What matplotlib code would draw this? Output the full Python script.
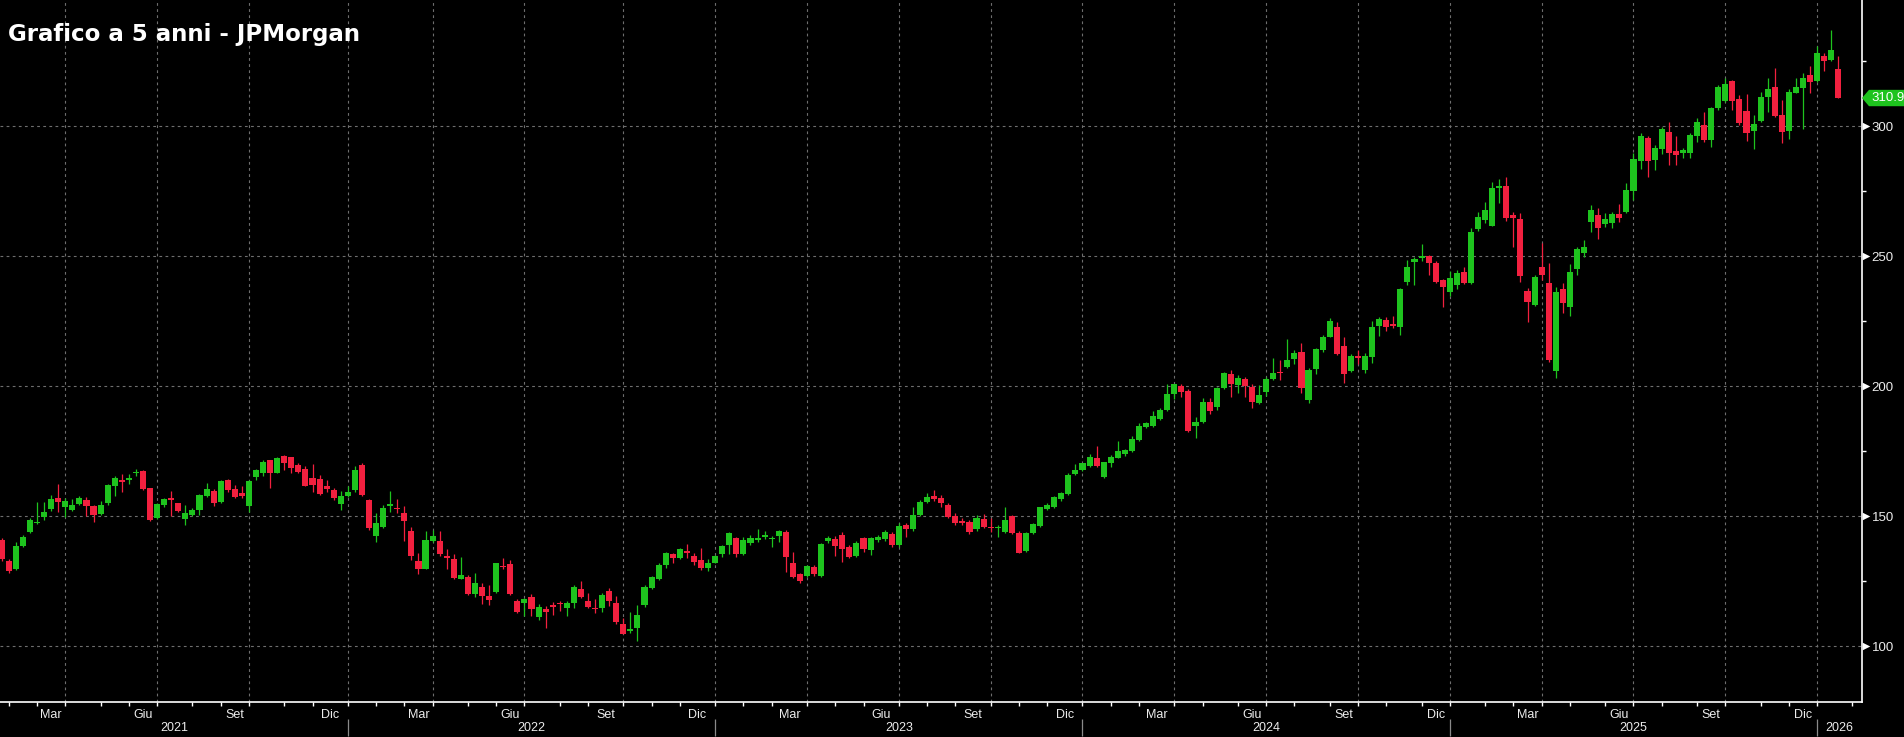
import numpy as np
import pandas as pd
import matplotlib
matplotlib.use("Agg")
import matplotlib.pyplot as plt
from matplotlib.patches import Polygon

# weekly candles (USD), first week starts 2021-01-25
first_week = "2021-01-25"

opens = [
    140.9, 133.0, 129.8, 138.6, 144.0, 147.3, 149.9, 152.7, 157.0, 153.5,
    152.5, 154.8, 156.3, 154.0, 151.0, 155.3, 161.8, 164.0, 163.8, 166.6,
    167.6, 160.8, 149.5, 154.3, 157.0, 155.2, 149.0, 150.6, 152.5, 157.9,
    159.8, 155.7, 164.0, 160.6, 158.9, 154.0, 165.3, 166.8, 171.5, 166.8,
    173.4, 172.7, 169.8, 168.1, 164.7, 164.3, 161.8, 160.2, 154.8, 157.9,
    160.2, 169.8, 156.3, 142.6, 146.1, 153.8, 153.4, 151.4, 144.5, 132.9,
    129.9, 140.6, 140.6, 134.7, 133.6, 126.1, 126.7, 120.1, 122.9, 119.5,
    121.0, 131.0, 131.7, 117.4, 116.5, 119.1, 111.4, 114.3, 115.9, 116.8,
    114.9, 116.8, 122.0, 117.4, 114.7, 114.8, 121.3, 116.5, 108.6, 105.9,
    107.2, 115.9, 122.5, 126.1, 131.3, 135.4, 134.1, 136.7, 134.7, 133.2,
    130.2, 132.2, 135.5, 139.0, 141.7, 135.5, 139.6, 140.9, 141.9, 141.2,
    142.6, 144.1, 132.2, 127.7, 127.2, 130.4, 127.2, 140.5, 141.2, 142.8,
    138.4, 134.8, 141.6, 137.1, 140.9, 141.3, 143.2, 139.0, 146.7, 145.0,
    150.5, 155.4, 157.8, 156.9, 154.4, 150.2, 148.4, 148.0, 145.0, 148.9,
    145.8, 145.4, 144.1, 150.2, 143.7, 136.8, 143.7, 146.3, 152.7, 153.7,
    156.5, 158.6, 166.3, 167.8, 169.5, 172.3, 165.3, 170.4, 172.6, 174.0,
    175.3, 179.4, 184.2, 184.7, 187.4, 190.9, 196.9, 200.2, 198.3, 184.9,
    186.4, 194.1, 192.2, 199.2, 204.7, 200.5, 202.7, 199.6, 193.7, 197.9,
    202.7, 205.7, 207.6, 210.4, 213.2, 194.8, 206.7, 214.0, 219.1, 222.7,
    215.5, 206.1, 211.7, 206.3, 211.4, 223.2, 225.5, 224.0, 223.0, 240.3,
    248.0, 249.3, 250.3, 247.6, 240.9, 236.4, 239.0, 243.9, 239.9, 260.4,
    264.0, 261.8, 276.4, 277.0, 265.9, 264.4, 236.7, 231.3, 245.8, 239.6,
    206.0, 237.3, 230.6, 245.0, 251.4, 263.1, 265.9, 262.4, 263.0, 266.2,
    267.2, 275.3, 286.8, 295.7, 287.1, 291.2, 298.0, 290.6, 289.7, 289.9,
    296.3, 300.6, 294.8, 307.1, 309.9, 317.5, 310.4, 305.9, 298.4, 302.2,
    311.2, 315.0, 304.4, 298.4, 313.0, 314.9, 319.8, 317.6, 327.1, 325.6,
    322.1,
]

highs = [
    141.5, 133.5, 140.3, 143.0, 149.3, 155.4, 155.6, 158.1, 162.5, 157.0,
    156.8, 157.9, 157.6, 154.5, 155.9, 162.5, 165.6, 166.3, 166.2, 168.1,
    167.9, 160.8, 155.0, 157.2, 159.8, 155.3, 154.4, 153.1, 158.6, 162.7,
    160.6, 164.0, 164.3, 162.0, 161.5, 164.0, 168.3, 171.7, 171.7, 173.0,
    173.6, 173.0, 170.4, 169.2, 170.2, 165.9, 164.0, 160.8, 159.9, 161.5,
    169.2, 170.7, 156.6, 151.2, 154.4, 159.8, 156.7, 154.0, 145.8, 135.8,
    144.5, 144.7, 144.3, 137.3, 135.5, 134.2, 127.4, 128.1, 124.2, 123.6,
    132.2, 134.1, 133.2, 118.4, 118.5, 120.1, 116.3, 115.5, 117.2, 117.4,
    117.4, 123.6, 125.1, 120.7, 118.1, 120.4, 122.5, 119.5, 110.8, 113.3,
    115.9, 123.6, 127.0, 131.9, 136.4, 136.1, 137.8, 139.2, 135.8, 137.8,
    133.5, 135.0, 139.1, 144.1, 141.9, 141.9, 142.8, 145.0, 144.5, 142.5,
    144.8, 144.8, 136.4, 128.1, 131.3, 131.3, 139.6, 142.5, 142.5, 144.1,
    139.0, 140.7, 142.2, 142.2, 142.7, 144.8, 144.1, 147.3, 147.6, 153.5,
    156.3, 159.1, 160.2, 158.2, 155.0, 151.2, 149.3, 148.6, 150.5, 150.9,
    149.3, 146.7, 153.5, 150.5, 144.5, 144.1, 147.6, 153.7, 155.0, 157.8,
    159.3, 166.5, 170.1, 170.6, 174.0, 177.0, 171.0, 173.6, 178.9, 176.1,
    180.9, 186.0, 186.4, 190.6, 191.5, 200.9, 201.1, 201.1, 199.1, 188.1,
    195.4, 195.4, 199.9, 205.6, 206.3, 204.4, 203.5, 201.1, 200.5, 203.5,
    210.8, 210.2, 218.1, 213.8, 216.8, 207.0, 214.9, 219.8, 226.2, 224.9,
    218.9, 212.5, 213.8, 212.7, 225.2, 226.6, 226.6, 227.1, 237.7, 248.6,
    249.9, 254.8, 250.5, 248.4, 241.2, 244.5, 244.8, 246.1, 260.8, 267.2,
    271.0, 278.7, 279.6, 280.4, 267.2, 266.5, 237.7, 242.8, 255.0, 247.6,
    238.3, 239.9, 247.1, 253.5, 256.3, 269.7, 268.5, 266.8, 267.2, 270.1,
    278.1, 289.9, 297.5, 296.3, 292.9, 299.7, 301.8, 296.1, 291.6, 297.3,
    303.1, 305.7, 307.6, 315.9, 318.5, 317.9, 312.1, 312.5, 304.4, 313.4,
    318.5, 322.6, 310.2, 314.3, 318.5, 320.4, 323.3, 331.0, 328.1, 337.1,
    327.1,
]

lows = [
    133.0, 128.3, 129.4, 138.2, 143.5, 147.0, 148.6, 152.2, 151.8, 149.9,
    152.2, 154.3, 150.2, 147.7, 150.5, 154.4, 158.0, 159.5, 162.3, 165.6,
    160.2, 148.3, 149.1, 153.5, 150.3, 151.8, 146.5, 150.2, 150.6, 157.4,
    153.8, 155.0, 159.4, 157.0, 157.0, 151.5, 163.8, 165.6, 160.8, 166.6,
    167.9, 166.6, 166.6, 161.5, 159.5, 158.3, 159.5, 156.3, 152.5, 157.6,
    159.5, 157.9, 144.8, 140.3, 145.4, 151.8, 151.2, 140.6, 133.2, 127.8,
    129.6, 140.2, 134.7, 129.6, 126.1, 126.1, 119.7, 119.1, 116.3, 115.9,
    120.6, 129.6, 119.7, 112.7, 111.8, 111.8, 110.1, 106.9, 112.0, 113.7,
    111.8, 114.9, 118.5, 114.9, 112.9, 113.1, 115.5, 108.6, 104.6, 105.2,
    102.2, 115.2, 121.9, 125.5, 130.0, 132.2, 133.6, 134.1, 131.3, 129.3,
    129.1, 131.9, 134.5, 135.5, 134.5, 135.1, 139.0, 140.3, 141.2, 138.4,
    140.3, 128.7, 126.2, 124.3, 126.8, 127.2, 126.8, 139.9, 134.8, 132.6,
    133.9, 134.3, 136.4, 135.2, 140.3, 140.7, 138.4, 138.4, 142.2, 144.5,
    150.2, 155.0, 156.1, 153.5, 149.3, 146.7, 146.7, 143.2, 144.5, 145.4,
    144.1, 141.9, 143.5, 143.1, 135.8, 136.4, 143.2, 145.8, 152.5, 153.1,
    156.1, 158.2, 165.9, 167.6, 169.1, 169.1, 164.9, 169.1, 172.3, 173.2,
    174.9, 179.1, 183.8, 184.5, 187.0, 190.6, 195.0, 195.8, 182.6, 180.0,
    186.0, 189.4, 190.9, 198.8, 196.0, 197.6, 196.0, 191.5, 193.2, 196.3,
    202.4, 202.5, 207.2, 208.6, 197.6, 193.5, 204.8, 213.4, 218.9, 212.1,
    201.4, 205.7, 208.6, 205.0, 209.1, 219.4, 221.4, 222.3, 219.8, 239.0,
    239.0, 248.4, 242.9, 239.6, 230.4, 234.8, 237.3, 239.4, 239.4, 259.9,
    263.0, 261.7, 270.4, 263.7, 253.7, 240.3, 224.9, 230.9, 240.9, 209.5,
    203.1, 228.3, 227.0, 242.8, 249.6, 259.5, 256.5, 261.4, 260.8, 263.3,
    266.8, 271.7, 283.5, 280.7, 283.3, 289.4, 285.2, 285.2, 287.7, 287.7,
    294.1, 294.1, 292.0, 306.3, 309.5, 306.3, 300.6, 294.5, 291.2, 301.8,
    305.7, 303.5, 293.5, 295.0, 312.7, 298.9, 312.7, 317.2, 321.1, 325.3,
    310.9,
]

closes = [
    133.5, 129.0, 138.7, 142.2, 148.6, 147.8, 151.7, 156.6, 155.7, 155.9,
    154.3, 157.1, 153.8, 150.6, 154.3, 162.0, 164.9, 163.1, 164.9, 167.1,
    160.6, 148.5, 154.7, 156.6, 156.4, 152.2, 151.2, 152.5, 158.3, 160.6,
    155.3, 163.6, 160.0, 157.6, 157.9, 163.6, 167.9, 170.9, 166.8, 172.5,
    170.4, 168.5, 167.2, 161.7, 162.1, 158.6, 160.4, 157.0, 157.9, 159.2,
    167.9, 158.3, 145.4, 147.4, 153.4, 154.8, 152.7, 148.3, 134.7, 129.6,
    140.9, 142.4, 135.5, 134.1, 126.4, 127.4, 120.0, 124.3, 119.5, 117.8,
    131.9, 130.4, 120.0, 113.3, 118.2, 114.3, 115.0, 113.3, 115.2, 116.3,
    116.8, 122.9, 119.1, 115.2, 114.2, 119.7, 117.4, 109.5, 104.9, 106.5,
    112.0, 122.9, 126.5, 131.3, 135.8, 134.1, 137.4, 135.8, 132.6, 130.0,
    131.9, 134.7, 138.6, 143.7, 135.5, 140.9, 141.7, 141.8, 142.8, 141.7,
    144.4, 134.3, 126.6, 125.3, 130.9, 127.8, 139.4, 141.6, 138.7, 137.3,
    134.5, 139.9, 137.3, 141.6, 141.9, 144.0, 139.0, 146.3, 145.0, 150.5,
    155.4, 157.3, 156.6, 155.0, 149.6, 147.6, 147.3, 144.1, 149.3, 146.0,
    145.4, 145.8, 148.6, 143.5, 136.0, 143.7, 147.1, 153.5, 154.4, 157.3,
    159.0, 165.9, 167.8, 170.4, 172.7, 169.5, 170.8, 172.7, 175.1, 175.5,
    179.6, 184.7, 185.8, 188.6, 190.9, 197.1, 200.9, 197.8, 182.9, 186.3,
    194.1, 190.6, 199.5, 205.3, 201.1, 203.1, 200.1, 194.1, 196.7, 202.8,
    205.0, 205.0, 210.2, 213.0, 199.5, 206.3, 214.4, 219.1, 225.3, 212.5,
    204.8, 211.7, 210.8, 211.7, 223.0, 225.9, 222.7, 223.2, 237.3, 246.1,
    249.0, 250.3, 247.6, 240.3, 238.1, 241.6, 243.5, 239.9, 259.3, 265.0,
    267.8, 276.2, 277.0, 264.6, 264.9, 242.6, 232.6, 241.9, 242.8, 210.1,
    236.4, 232.2, 243.8, 252.7, 253.5, 267.8, 260.8, 264.2, 266.3, 264.9,
    275.5, 287.3, 296.3, 286.8, 291.8, 298.9, 289.7, 288.8, 291.0, 296.7,
    301.7, 294.8, 307.0, 315.0, 316.3, 309.9, 301.2, 297.6, 300.9, 311.2,
    314.3, 303.8, 298.0, 313.4, 315.0, 318.5, 317.2, 328.4, 325.3, 329.4,
    310.9,
]

month_names = {3: "Mar", 6: "Giu", 9: "Set", 12: "Dic"}
y_major = [100, 150, 200, 250, 300]
y_minor = [125, 175, 225, 275, 325]
title = "Grafico a 5 anni - JPMorgan"

GREEN = "#1ec31e"
RED = "#f2203f"
GRID = "#6e6e6e"
FG = "#ececec"
plt.rcParams["font.family"] = ["Liberation Sans", "DejaVu Sans"]

weeks = pd.date_range(first_week, periods=len(closes), freq="7D")
x = np.arange(len(closes))
o = np.array(opens)
c = np.array(closes)


def week_index(day):
    # candle whose week holds the first trading day on/after `day`
    bd = np.busday_offset(np.datetime64(day.date()), 0, roll="forward")
    return (pd.Timestamp(bd) - weeks[0]).days // 7


fig = plt.figure(figsize=(19.04, 7.37), dpi=100, facecolor="black")
ax = fig.add_axes([0, 35 / 737, 1862 / 1904, 702 / 737])
ax.set_facecolor("black")

x_left = -0.24
x_right = 263.35
ax.set_xlim(x_left, x_right)
ax.set_ylim(78.6, 348.6)

# grid
for v in y_major:
    ax.axhline(v, color=GRID, lw=0.8, ls=(0, (2.5, 3)), zorder=1)
quarters = pd.date_range("2021-04-01", "2026-01-01", freq="QS")
for q in quarters:
    ax.axvline(week_index(q), color=GRID, lw=0.8, ls=(0, (2.5, 3)), zorder=1)

# candles
cols = np.where(c >= o, GREEN, RED)
ax.vlines(x, lows, highs, colors=cols, lw=0.9, zorder=2)
body_low = np.minimum(o, c)
body_h = np.maximum(np.abs(c - o), 0.4)
ax.bar(x, body_h, bottom=body_low, width=0.86, color=cols, lw=0, zorder=3)

# spines
for s in ["left", "top"]:
    ax.spines[s].set_visible(False)
for s in ["right", "bottom"]:
    ax.spines[s].set_color("white")
    ax.spines[s].set_linewidth(1.2)

# x axis: month ticks, month labels, year labels
months = pd.date_range("2021-02-01", "2026-02-01", freq="MS")
mpos = [week_index(m) for m in months]
ax.set_xticks(mpos, minor=True)
lab_pos, lab_txt = [], []
for m in months:
    if m.month in month_names:
        nxt = m + pd.offsets.MonthBegin(1)
        lab_pos.append((week_index(m) + week_index(nxt)) / 2)
        lab_txt.append(month_names[m.month])
ax.set_xticks(lab_pos)
ax.set_xticklabels(lab_txt)
ax.tick_params(axis="x", which="major", length=0, pad=5, labelsize=9,
               labelcolor=FG)
ax.tick_params(axis="x", which="minor", length=3, width=1, color="white")

years = [2022, 2023, 2024, 2025, 2026]
ypos = [week_index(pd.Timestamp(f"{y}-01-01")) for y in years]
ax.vlines(ypos, -0.0245, -0.048, transform=ax.get_xaxis_transform(),
          colors="#8a8a8a", lw=0.9, clip_on=False)
edges = [x_left] + ypos + [x_right]
for k, yr in enumerate([2021] + years):
    ax.text((edges[k] + edges[k + 1]) / 2, -0.0375, str(yr),
            transform=ax.get_xaxis_transform(), ha="center", va="center",
            fontsize=9, color=FG)

# y axis on the right
ax.yaxis.tick_right()
ax.set_yticks(y_major)
ax.set_yticklabels([str(v) for v in y_major])
ax.set_yticks(y_minor, minor=True)
ax.tick_params(axis="y", which="major", length=0, pad=7, labelsize=9.5,
               labelcolor=FG)
ax.tick_params(axis="y", which="minor", length=3, width=1, color="white")
ax.scatter([1.0022] * len(y_major), y_major, marker=">", s=30, color="white",
           lw=0, transform=ax.get_yaxis_transform(), clip_on=False, zorder=5)

# last price tag
last = closes[-1]
h = 3.15
tip = 7 / 1862
far = 1 + 42 / 1862
tag = Polygon([(1.0, last), (1 + tip, last + h), (far, last + h),
               (far, last - h), (1 + tip, last - h)], closed=True,
              transform=ax.get_yaxis_transform(), clip_on=False,
              facecolor=GREEN, edgecolor="none", zorder=6)
ax.add_patch(tag)
ax.text(1 + 9 / 1862, last, f"{last:.1f}", transform=ax.get_yaxis_transform(),
        ha="left", va="center", fontsize=9.5, color="white", zorder=7)

fig.text(8 / 1904, 1 - 41 / 737, title, fontsize=16.5, fontweight="bold",
         color="white", va="baseline", family="DejaVu Sans")

fig.savefig("out.png", dpi=100, facecolor="black")
